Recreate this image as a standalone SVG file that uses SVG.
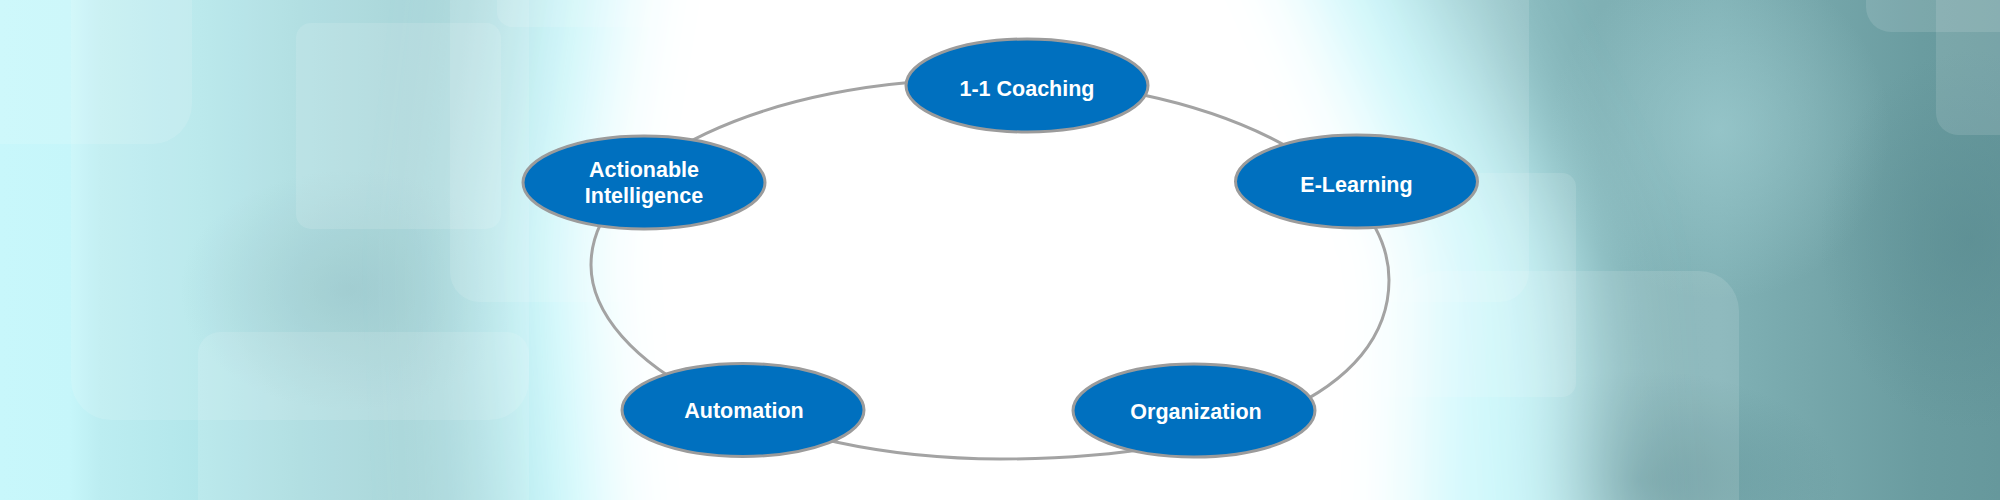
<svg xmlns="http://www.w3.org/2000/svg" width="2000" height="500" viewBox="0 0 2000 500">
  <defs>
    <linearGradient id="base" x1="0" y1="0" x2="1" y2="0">
      <stop offset="0" stop-color="#c8f7fb"/>
      <stop offset="0.035" stop-color="#c6f6fa"/>
      <stop offset="0.05" stop-color="#bcedf1"/>
      <stop offset="0.10" stop-color="#b2e6ea"/>
      <stop offset="0.15" stop-color="#a8dbdf"/>
      <stop offset="0.20" stop-color="#a0d2d6"/>
      <stop offset="0.26" stop-color="#9ccdd1"/>
      <stop offset="0.50" stop-color="#9ccdd1"/>
      <stop offset="0.74" stop-color="#8fc0c4"/>
      <stop offset="0.80" stop-color="#7fb0b4"/>
      <stop offset="0.86" stop-color="#80b1b5"/>
      <stop offset="0.91" stop-color="#75a6aa"/>
      <stop offset="0.96" stop-color="#6a9ca0"/>
      <stop offset="1" stop-color="#66989c"/>
    </linearGradient>
    <radialGradient id="darkspot">
      <stop offset="0" stop-color="#8cbdc1" stop-opacity="0.6"/>
      <stop offset="1" stop-color="#8cbdc1" stop-opacity="0"/>
    </radialGradient>
    <radialGradient id="darkspot2">
      <stop offset="0" stop-color="#5a8c91" stop-opacity="0.65"/>
      <stop offset="1" stop-color="#5a8c91" stop-opacity="0"/>
    </radialGradient>
    <radialGradient id="lightspot">
      <stop offset="0" stop-color="#a2d0d4" stop-opacity="0.6"/>
      <stop offset="1" stop-color="#a2d0d4" stop-opacity="0"/>
    </radialGradient>
    <filter id="blur1" x="-50%" y="-50%" width="200%" height="200%">
      <feGaussianBlur stdDeviation="50"/>
    </filter>
    <filter id="blur2" x="-50%" y="-50%" width="200%" height="200%">
      <feGaussianBlur stdDeviation="40"/>
    </filter>
    <style>
      .tile { fill: #ffffff; fill-opacity: 0.12; }
      .node ellipse { fill: #0070bf; stroke: #9b9b9b; stroke-width: 3; }
      .node text { fill: #ffffff; font-family: "Liberation Sans", Arial, sans-serif; font-weight: bold; font-size: 21.5px; text-anchor: middle; }
      .ring { fill: none; stroke: #a3a3a3; stroke-width: 3; }
    </style>
  </defs>

  <!-- background -->
  <g id="background">
    <rect x="0" y="0" width="2000" height="500" fill="url(#base)"/>
    <ellipse cx="350" cy="290" rx="170" ry="120" fill="url(#darkspot)"/>
    <ellipse cx="1720" cy="130" rx="170" ry="170" fill="url(#lightspot)"/>
    <ellipse cx="1640" cy="480" rx="200" ry="110" fill="url(#darkspot2)"/>
    <ellipse cx="1970" cy="240" rx="150" ry="190" fill="url(#darkspot2)"/>
    <polygon points="530,-150 1360,-150 1570,250 1600,650 500,650 480,250" fill="#c9f8fc" filter="url(#blur1)"/>
    <polygon points="640,-150 1250,-150 1430,250 1420,650 610,650 575,250" fill="#ffffff" filter="url(#blur2)"/>
    <rect class="tile" x="-40" y="-40" width="232" height="184" rx="40"/>
    <rect class="tile" x="71" y="-40" width="458" height="460" rx="40"/>
    <rect class="tile" x="296" y="23" width="205" height="206" rx="15"/>
    <rect class="tile" x="450" y="-40" width="1079" height="342" rx="30"/>
    <rect class="tile" x="497" y="-30" width="205" height="57" rx="15"/>
    <rect class="tile" x="198" y="332" width="331" height="220" rx="22"/>
    <rect class="tile" x="1330" y="173" width="246" height="224" rx="14"/>
    <rect class="tile" x="1400" y="271" width="339" height="280" rx="40"/>
    <rect class="tile" x="1866" y="-30" width="200" height="62" rx="25"/>
    <rect class="tile" x="1936" y="-30" width="100" height="165" rx="22"/>
  </g>

  <!-- connectors -->
  <g id="connectors">
    <path class="ring" d="M985,79 C1208,79 1389,169 1389,280 C1389,392 1235,459 1000,459 C765,459 591,362 591,265 C591,162 767,79 985,79 Z"/>
  </g>

  <!-- nodes -->
  <g id="node-coaching" class="node">
    <ellipse cx="1027" cy="85.5" rx="121" ry="46.5"/>
    <text x="1027" y="96">1-1 Coaching</text>
  </g>
  <g id="node-elearning" class="node">
    <ellipse cx="1356.5" cy="181.5" rx="121" ry="46.5"/>
    <text x="1356.5" y="191.5">E-Learning</text>
  </g>
  <g id="node-actionable" class="node">
    <ellipse cx="644" cy="182.5" rx="121" ry="46.5"/>
    <text x="644" y="177">Actionable</text>
    <text x="644" y="203">Intelligence</text>
  </g>
  <g id="node-automation" class="node">
    <ellipse cx="743" cy="410" rx="121" ry="46.5"/>
    <text x="744" y="418">Automation</text>
  </g>
  <g id="node-organization" class="node">
    <ellipse cx="1194" cy="410.5" rx="121" ry="46.5"/>
    <text x="1196" y="419">Organization</text>
  </g>
</svg>
